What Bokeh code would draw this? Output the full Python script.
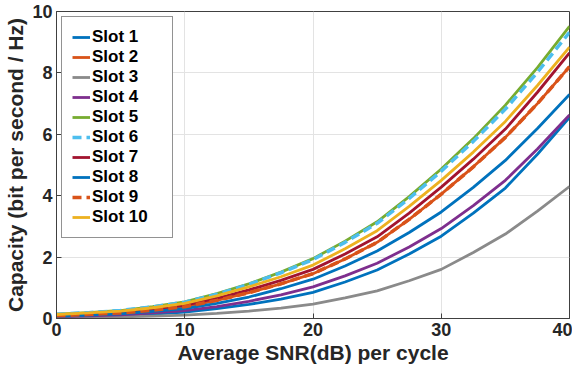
from bokeh.plotting import figure
from bokeh.models import Range1d, FixedTicker, Legend
from bokeh.embed import file_html
from bokeh.resources import INLINE

snr_db = [0, 2.5, 5, 7.5, 10, 12.5, 15, 17.5, 20, 22.5, 25, 27.5, 30, 32.5, 35, 37.5, 40]

slot1 = [0.04, 0.06, 0.09, 0.14, 0.21, 0.32, 0.46, 0.63, 0.85, 1.19, 1.58, 2.10, 2.68, 3.43, 4.25, 5.35, 6.55]
slot2 = [0.09, 0.13, 0.18, 0.27, 0.38, 0.59, 0.84, 1.13, 1.46, 1.94, 2.48, 3.23, 4.05, 4.94, 5.90, 7.00, 8.20]
slot3 = [0.02, 0.03, 0.05, 0.08, 0.11, 0.17, 0.24, 0.34, 0.47, 0.67, 0.90, 1.23, 1.60, 2.15, 2.75, 3.50, 4.30]
slot4 = [0.06, 0.09, 0.12, 0.18, 0.26, 0.39, 0.56, 0.77, 1.03, 1.39, 1.80, 2.33, 2.93, 3.68, 4.50, 5.52, 6.63]
slot5 = [0.14, 0.19, 0.26, 0.39, 0.54, 0.81, 1.13, 1.51, 1.95, 2.52, 3.15, 3.97, 4.87, 5.86, 6.95, 8.17, 9.52]
slot6 = [0.14, 0.19, 0.26, 0.38, 0.53, 0.79, 1.11, 1.49, 1.92, 2.48, 3.10, 3.91, 4.80, 5.77, 6.82, 8.02, 9.32]
slot7 = [0.11, 0.16, 0.21, 0.31, 0.43, 0.66, 0.93, 1.24, 1.60, 2.10, 2.66, 3.43, 4.28, 5.19, 6.17, 7.37, 8.65]
slot8 = [0.07, 0.11, 0.15, 0.23, 0.32, 0.49, 0.70, 0.97, 1.28, 1.71, 2.20, 2.80, 3.47, 4.27, 5.15, 6.19, 7.30]
slot9 = [0.09, 0.13, 0.18, 0.27, 0.38, 0.59, 0.84, 1.13, 1.46, 1.94, 2.48, 3.23, 4.05, 4.94, 5.90, 7.00, 8.20]
slot10 = [0.13, 0.18, 0.24, 0.35, 0.49, 0.74, 1.03, 1.36, 1.74, 2.27, 2.86, 3.65, 4.50, 5.42, 6.42, 7.59, 8.84]

series = [
    ("Slot 1", slot1, "#0072BD", "solid"),
    ("Slot 2", slot2, "#D95319", "solid"),
    ("Slot 3", slot3, "#8A8A8A", "solid"),
    ("Slot 4", slot4, "#7E2F8E", "solid"),
    ("Slot 5", slot5, "#77AC30", "solid"),
    ("Slot 6", slot6, "#4DBEEE", "9 5"),
    ("Slot 7", slot7, "#A2142F", "solid"),
    ("Slot 8", slot8, "#0072BD", "solid"),
    ("Slot 9", slot9, "#D95319", "9 5"),
    ("Slot 10", slot10, "#EDB120", "solid"),
]

x_ticks = [0, 10, 20, 30, 40]
y_ticks = [0, 2, 4, 6, 8, 10]

FONT = "Liberation Sans"
TXT = "#262626"

p = figure(width=572, height=366, output_backend="svg", toolbar_location=None,
           x_range=Range1d(0, 40), y_range=Range1d(0, 10),
           min_border_left=56, min_border_right=3, min_border_top=11, min_border_bottom=10)

p.xgrid.ticker = FixedTicker(ticks=x_ticks)
p.ygrid.ticker = FixedTicker(ticks=y_ticks)
p.grid.grid_line_color = "#e3e3e3"
p.grid.grid_line_width = 1

for ax, ticks in ((p.xaxis[0], x_ticks), (p.yaxis[0], y_ticks)):
    ax.ticker = FixedTicker(ticks=ticks)
    ax.major_label_text_font = FONT
    ax.major_label_text_font_style = "bold"
    ax.major_label_text_font_size = "18px"
    ax.major_label_text_color = TXT
    ax.axis_label_text_font = FONT
    ax.axis_label_text_font_style = "bold"
    ax.axis_label_text_font_size = "21px"
    ax.axis_label_text_color = TXT
    ax.major_tick_in = 5
    ax.major_tick_out = 0
    ax.minor_tick_in = 0
    ax.minor_tick_out = 0
    ax.axis_line_color = "#404040"
    ax.major_tick_line_color = "#404040"
    ax.major_label_standoff = 4
    ax.axis_label_standoff = 2

p.xaxis.axis_label = "Average SNR(dB) per cycle"
p.yaxis.axis_label = "Capacity (bit per second / Hz)"

p.outline_line_color = "#404040"

items = []
for name, ys, color, dash in series:
    w = 3.5 if dash != "solid" else 2.8
    r = p.line(snr_db, ys, line_color=color, line_width=w, line_dash=dash)
    items.append((name, [r]))

legend = Legend(items=items, location="top_left")
legend.label_text_font = FONT
legend.label_text_font_style = "bold"
legend.label_text_font_size = "17px"
legend.label_text_color = "#000000"
legend.glyph_width = 18
legend.glyph_height = 20
legend.label_height = 20
legend.label_width = 70
legend.label_standoff = 2
legend.spacing = 0
legend.padding = 10
legend.margin = 5
legend.border_line_color = "#262626"
legend.border_line_width = 1
legend.background_fill_alpha = 1
p.add_layout(legend)

open("out.html", "w").write(file_html(p, INLINE))
